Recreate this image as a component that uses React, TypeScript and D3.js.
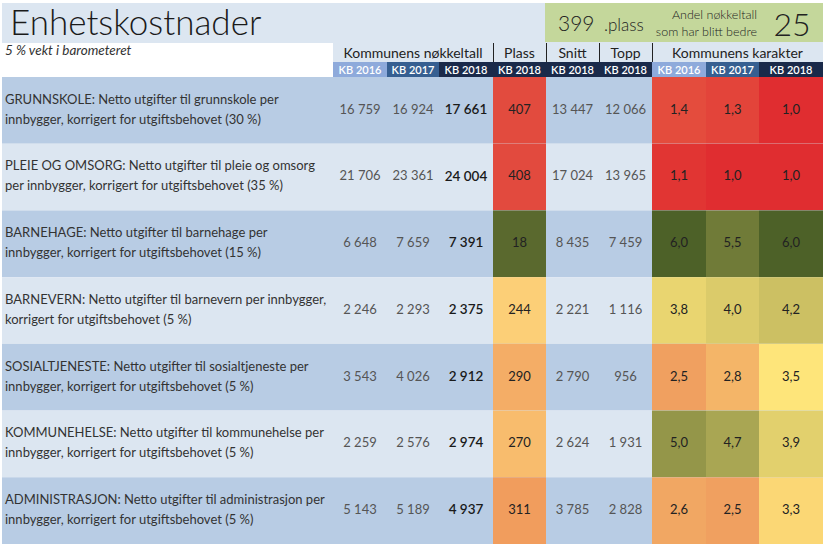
import React from "react";
import * as d3 from "d3";

const title = "Enhetskostnader";
const subtitle = "5 % vekt i barometeret";
const rankTotal = 399;
const improvedCount = 25;

const labels: string[][] = [
  ["GRUNNSKOLE: Netto utgifter til grunnskole per", "innbygger, korrigert for utgiftsbehovet (30 %)"],
  ["PLEIE OG OMSORG: Netto utgifter til pleie og omsorg", "per innbygger, korrigert for utgiftsbehovet (35 %)"],
  ["BARNEHAGE: Netto utgifter til barnehage per", "innbygger, korrigert for utgiftsbehovet (15 %)"],
  ["BARNEVERN: Netto utgifter til barnevern per innbygger,", "korrigert for utgiftsbehovet (5 %)"],
  ["SOSIALTJENESTE: Netto utgifter til sosialtjeneste per", "innbygger, korrigert for utgiftsbehovet (5 %)"],
  ["KOMMUNEHELSE: Netto utgifter til kommunehelse per", "innbygger, korrigert for utgiftsbehovet (5 %)"],
  ["ADMINISTRASJON: Netto utgifter til administrasjon per", "innbygger, korrigert for utgiftsbehovet (5 %)"],
];

const kb2016 = [16759, 21706, 6648, 2246, 3543, 2259, 5143];
const kb2017 = [16924, 23361, 7659, 2293, 4026, 2576, 5189];
const kb2018 = [17661, 24004, 7391, 2375, 2912, 2974, 4937];
const plass = [407, 408, 18, 244, 290, 270, 311];
const snitt = [13447, 17024, 8435, 2221, 2790, 2624, 3785];
const topp = [12066, 13965, 7459, 1116, 956, 1931, 2828];
const kar2016 = [1.4, 1.1, 6.0, 3.8, 2.5, 5.0, 2.6];
const kar2017 = [1.3, 1.0, 5.5, 4.0, 2.8, 4.7, 2.5];
const kar2018 = [1.0, 1.0, 6.0, 4.2, 3.5, 3.9, 3.3];

const groupHeaders = ["Kommunens nøkkeltall", "Plass", "Snitt", "Topp", "Kommunens karakter"];
const subHeaders = ["KB 2016", "KB 2017", "KB 2018", "KB 2018", "KB 2018", "KB 2018", "KB 2016", "KB 2017", "KB 2018"];

const W = 823;
const H = 545;
const FONT = "Lato, 'Open Sans', sans-serif";

const loc = d3.formatLocale({ decimal: ",", thousands: "\u00A0", grouping: [3], currency: ["", ""] });
const fmtInt = loc.format(",d");
const fmtKar = loc.format(".1f");

// columns
const colEdges = [333, 387, 439, 493, 546, 599, 652, 706, 759, 823];
const colX = (i: number) => colEdges[i];
const colW = (i: number) => colEdges[i + 1] - colEdges[i];

const rowY = d3.scaleBand<number>().domain(d3.range(labels.length)).range([77, 544]).padding(0);

const karColor = d3
  .scaleLinear<string>()
  .domain([1, 2.5, 3.5, 6])
  .range(["#e02d30", "#f0a060", "#fee57a", "#4d6128"])
  .interpolate(d3.interpolateRgb)
  .clamp(true);

const plassColor = d3
  .scaleLinear<string>()
  .domain([1, 240, 320, 420])
  .range(["#4d6128", "#fdd279", "#ef965a", "#e0403a"])
  .interpolate(d3.interpolateRgb)
  .clamp(true);

const subHeaderFill = ["#8eaadb", "#365f91", "#1a2a4a", "#1a2a4a", "#1a2a4a", "#1a2a4a", "#8eaadb", "#365f91", "#1a2a4a"];

export default function App() {
  const rowBg = (i: number) => (i % 2 === 0 ? "#b8cce4" : "#dce6f1");
  const numCols = [kb2016, kb2017, kb2018];
  const statCols = [snitt, topp];
  const karCols = [kar2016, kar2017, kar2018];

  return (
    <svg
      width={W}
      height={H}
      style={{ position: "absolute", left: 0, top: 0, background: "#fff" }}
      fontFamily={FONT}
    >
      {/* header background */}
      <rect x={2} y={3} width={W - 2} height={74} fill="#dce6f1" />
      <rect x={545} y={3} width={W - 545} height={39} fill="#c4d79b" />
      <rect x={2} y={43} width={331} height={34} fill="#ffffff" />

      <text x={10} y={35} fontSize={35} fontWeight={300} fill="#1a1a1a">
        {title}
      </text>
      <text x={5} y={55} fontSize={13.5} fontStyle="italic" fill="#333">
        {subtitle}
      </text>

      <text x={558} y={31} fontSize={21} fontWeight={300} fill="#222">
        {rankTotal}
      </text>
      <text x={604} y={31} fontSize={17} fontWeight={300} fill="#222">
        .plass
      </text>
      <text x={757} y={19} fontSize={12.5} fontWeight={300} textAnchor="end" fill="#222">
        Andel nøkkeltall
      </text>
      <text x={757} y={36} fontSize={12.5} fontWeight={300} textAnchor="end" fill="#222">
        som har blitt bedre
      </text>
      <text x={792} y={36} fontSize={32} fontWeight={300} textAnchor="middle" fill="#222">
        {improvedCount}
      </text>

      {/* group headers */}
      {[
        [0, 3],
        [3, 4],
        [4, 5],
        [5, 6],
        [6, 9],
      ].map(([a, b], gi) => (
        <text
          key={"gh" + gi}
          x={(colEdges[a] + colEdges[b]) / 2}
          y={58}
          fontSize={14}
          textAnchor="middle"
          fill="#222"
        >
          {groupHeaders[gi]}
        </text>
      ))}
      {[493.5, 546.5, 599.5, 652.5].map((x, i) => (
        <line key={"sep" + i} x1={x} x2={x} y1={43} y2={62} stroke="#222" strokeWidth={1} />
      ))}
      {subHeaders.map((s, i) => (
        <g key={"sh" + i}>
          <rect x={colX(i)} y={62} width={colW(i)} height={15} fill={subHeaderFill[i]} />
          <text
            x={colX(i) + colW(i) / 2}
            y={73.5}
            fontSize={11}
            fontWeight={600}
            textAnchor="middle"
            fill="#fff"
          >
            {s}
          </text>
        </g>
      ))}

      {/* rows */}
      {labels.map((lab, r) => {
        const y0 = rowY(r)!;
        const h = rowY.bandwidth();
        const cy = y0 + h / 2;
        return (
          <g key={"row" + r}>
            <rect x={2} y={y0} width={W - 2} height={h} fill={rowBg(r)} />
            <text x={5} y={cy - 10} fontSize={13} fill="#333" dominantBaseline="middle">
              {lab[0]}
            </text>
            <text x={5} y={cy + 10} fontSize={13} fill="#333" dominantBaseline="middle">
              {lab[1]}
            </text>
            {numCols.map((col, c) => (
              <text
                key={"n" + c}
                x={colX(c) + colW(c) / 2}
                y={cy}
                fontSize={c === 2 ? 13.5 : 13}
                fontWeight={c === 2 ? 600 : 400}
                fill={c === 2 ? "#1a1a1a" : "#555"}
                textAnchor="middle"
                dominantBaseline="middle"
              >
                {fmtInt(col[r])}
              </text>
            ))}
            <rect x={colX(3)} y={y0} width={colW(3)} height={h} fill={plassColor(plass[r])} />
            <text
              x={colX(3) + colW(3) / 2}
              y={cy}
              fontSize={13}
              fill="#222"
              textAnchor="middle"
              dominantBaseline="middle"
            >
              {fmtInt(plass[r])}
            </text>
            {statCols.map((col, c) => (
              <text
                key={"s" + c}
                x={colX(4 + c) + colW(4 + c) / 2}
                y={cy}
                fontSize={13}
                fill="#555"
                textAnchor="middle"
                dominantBaseline="middle"
              >
                {fmtInt(col[r])}
              </text>
            ))}
            {karCols.map((col, c) => (
              <g key={"k" + c}>
                <rect x={colX(6 + c)} y={y0} width={colW(6 + c)} height={h} fill={karColor(col[r])} />
                <text
                  x={colX(6 + c) + colW(6 + c) / 2}
                  y={cy}
                  fontSize={13}
                  fill="#222"
                  textAnchor="middle"
                  dominantBaseline="middle"
                >
                  {fmtKar(col[r])}
                </text>
              </g>
            ))}
          </g>
        );
      })}
    </svg>
  );
}
